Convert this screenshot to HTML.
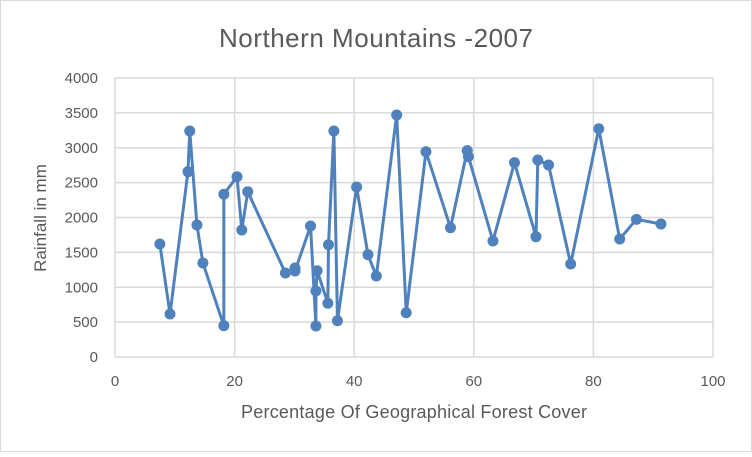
<!DOCTYPE html>
<html><head><meta charset="utf-8"><style>
body{margin:0;background:#fff}
svg text{font-family:"Liberation Sans",Calibri,sans-serif;fill:#595959}
</style></head><body>
<svg id="chart" width="752" height="452" viewBox="0 0 752 452" xmlns="http://www.w3.org/2000/svg">
<rect x="0.5" y="0.5" width="751" height="451" fill="#fff" stroke="#d9d9d9"/>
<text x="376" y="47" text-anchor="middle" font-size="26" textLength="314">Northern Mountains -2007</text>
<g id="grid"></g>
<g id="ticks"></g>
<path id="line" fill="none" stroke="#4f81bd" stroke-width="3" stroke-linejoin="round"/>
<g id="pts"></g>
<text x="414" y="418" text-anchor="middle" font-size="18" textLength="346">Percentage Of Geographical Forest Cover</text>
<text transform="translate(46,218) rotate(-90)" text-anchor="middle" font-size="17">Rainfall in mm</text>
</svg>
<script>
const xValues=[7.5,9.2,12.2,12.5,13.7,14.7,18.2,18.2,20.4,21.2,22.2,28.5,30.1,30.1,32.7,33.6,33.6,33.8,35.6,35.7,36.6,37.2,40.4,42.3,43.7,47.1,48.7,52.0,56.1,58.9,59.1,63.2,66.8,70.4,70.7,72.5,76.2,80.9,84.4,87.2,91.3];
const yValues=[1620,616,2657,3240,1892,1348,449,2333,2585,1821,2370,1204,1276,1233,1878,444,946,1237,770,1610,3240,520,2437,1467,1161,3470,635,2943,1854,2958,2872,1663,2786,1725,2824,2753,1333,3273,1692,1974,1907];
const xTicks=[0,20,40,60,80,100];
const yTicks=[0,500,1000,1500,2000,2500,3000,3500,4000];
const L=115,R=713,T=78,B=357;
const sx=v=>L+(v-0)/(100-0)*(R-L);
const sy=v=>B-(v-0)/(4000-0)*(B-T);
const NS="http://www.w3.org/2000/svg";
const grid=document.getElementById('grid'),ticks=document.getElementById('ticks');
function mk(tag,attrs,parent){const e=document.createElementNS(NS,tag);for(const k in attrs)e.setAttribute(k,attrs[k]);parent.appendChild(e);return e;}
yTicks.forEach(v=>{
 const l=mk('line',{x1:L,x2:R,y1:sy(v),y2:sy(v),stroke:'#d9d9d9','stroke-width':1.5},grid);
 
 
 const t=mk('text',{x:98,y:sy(v)+5,'text-anchor':'end','font-size':15},ticks);
 t.textContent=v;
 
 
});
xTicks.forEach(v=>{
 const l=mk('line',{x1:sx(v),x2:sx(v),y1:T,y2:B,stroke:'#d9d9d9','stroke-width':1.5},grid);
 
 
 const t=mk('text',{x:sx(v),y:386,'text-anchor':'middle','font-size':15},ticks);
 t.textContent=v;
 
 
});
document.getElementById('line').setAttribute('d',xValues.map((x,i)=>(i?'L':'M')+sx(x)+','+sy(yValues[i])).join(''));
const pts=document.getElementById('pts');
xValues.forEach((x,i)=>{
 const c=mk('circle',{cx:sx(x),cy:sy(yValues[i]),r:5.5,fill:'#4f81bd'},pts);
 
 
});
</script>
</body></html>
